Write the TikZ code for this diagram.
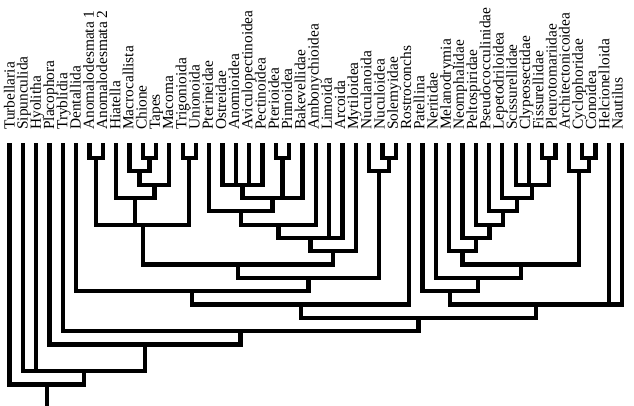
\documentclass[tikz,border=0pt]{standalone}
\usepackage{fontspec}
\setmainfont{Liberation Serif}
\usetikzlibrary{calc}
\tikzset{
  branch/.style={line width=4.3pt, line join=miter},
  lab/.style={rotate=90, anchor=base west, inner sep=0pt, font=\fontsize{15.4}{15.4}\selectfont}
}
% name, left child, right child, level
\newcommand\mkclade[4]{%
  \coordinate (tmpc) at ($(#2)!0.5!(#3)$);
  \pgfmathsetmacro\cladey{144.67+13.33*#4}
  \coordinate (#1) at (tmpc |- 0,\cladey);
  \draw[branch] (#2) |- (#1);
  \draw[branch] (#3) |- (#1);
}
\newcommand\midchild[2]{\draw[branch] (#1) |- (#2);}
\begin{document}
\begin{tikzpicture}[x=1pt,y=-1pt]
\useasboundingbox (0,0) rectangle (634,405);
\foreach \i/\t in {1/Turbellaria,2/Sipunculida,3/Hyolitha,4/Placophora,5/Tryblidia,6/Dentallida,7/Anomalodesmata 1,8/Anomalodesmata 2,9/Hiatella,10/Macrocallista,11/Chione,12/Tapes,13/Macoma,14/Trigonioida,15/Unionoida,16/Pterineidae,17/Ostreidae,18/Anomioidea,19/Aviculopectinoidea,20/Pectinoidea,21/Pterioidea,22/Pinnoidea,23/Bakevellidae,24/Ambonychioidea,25/Limoida,26/Arcoida,27/Mytiloidea,28/Nuculanoida,29/Nuculoidea,30/Solemyidae,31/Rostroconchs,32/Patellina,33/Neritidae,34/Melanodrymia,35/Neomphalidae,36/Peltospiridae,37/Pseudococculinidae,38/Lepetodriloidea,39/Scissurellidae,40/Clypeosectidae,41/Fissurellidae,42/Pleurotomariidae,43/Architectonicoidea,44/Cyclophoridae,45/Conoidea,46/Helcionelloida,47/Nautilus}{
  \node[lab] (t\i) at ({14.5+13.22*(\i-1)},130) {\t};
  \coordinate (l\i) at ({9.5+13.32*(\i-1)},143);
}
% heteroconchs
\mkclade{a78}{l7}{l8}{1}
\mkclade{a1112}{l11}{l12}{1}
\mkclade{a1415}{l14}{l15}{1}
\mkclade{a10}{l10}{a1112}{2}
\mkclade{a13}{a10}{l13}{3}
\mkclade{a9}{l9}{a13}{4}
\mkclade{het}{a78}{a1415}{6}
\midchild{a9}{het}
% pteriomorphs
\mkclade{p2122}{l21}{l22}{1}
\mkclade{p1720}{l17}{l20}{3}
\midchild{l18}{p1720}
\midchild{l19}{p1720}
\mkclade{p23}{p1720}{l23}{4}
\midchild{p2122}{p23}
\mkclade{p16}{l16}{p23}{5}
\mkclade{p24}{p16}{l24}{6}
\mkclade{p26}{p24}{l26}{7}
\midchild{l25}{p26}
\mkclade{p27}{p26}{l27}{8}
\mkclade{biv1}{het}{p27}{9}
% protobranchs
\mkclade{n2930}{l29}{l30}{1}
\mkclade{n28}{l28}{n2930}{2}
\mkclade{biv2}{biv1}{n28}{10}
\mkclade{m6}{l6}{biv2}{11}
\mkclade{m31}{m6}{l31}{12}
% gastropods
\mkclade{g4142}{l41}{l42}{1}
\mkclade{g40}{l39}{g4142}{3}
\midchild{l40}{g40}
\mkclade{g38}{l38}{g40}{4}
\mkclade{g37}{l37}{g38}{5}
\mkclade{g36}{l36}{g37}{6}
\mkclade{g35}{l35}{g36}{7}
\mkclade{g34}{l34}{g35}{8}
\mkclade{c4445}{l44}{l45}{1}
\mkclade{c43}{l43}{c4445}{2}
\mkclade{g9}{g34}{c43}{9}
\mkclade{g33}{l33}{g9}{10}
\mkclade{g32}{l32}{g33}{11}
\mkclade{gn}{g32}{l47}{12}
\midchild{l46}{gn}
% deep nodes
\mkclade{m13}{m31}{gn}{13}
\mkclade{m5}{l5}{m13}{14}
\mkclade{m4}{l4}{m5}{15}
\mkclade{m2}{l2}{m4}{17}
\midchild{l3}{m2}
\mkclade{root}{l1}{m2}{18}
\coordinate (rootbase) at (root |- 0,406);
\draw[branch] (root) -- (rootbase);
\end{tikzpicture}
\end{document}
